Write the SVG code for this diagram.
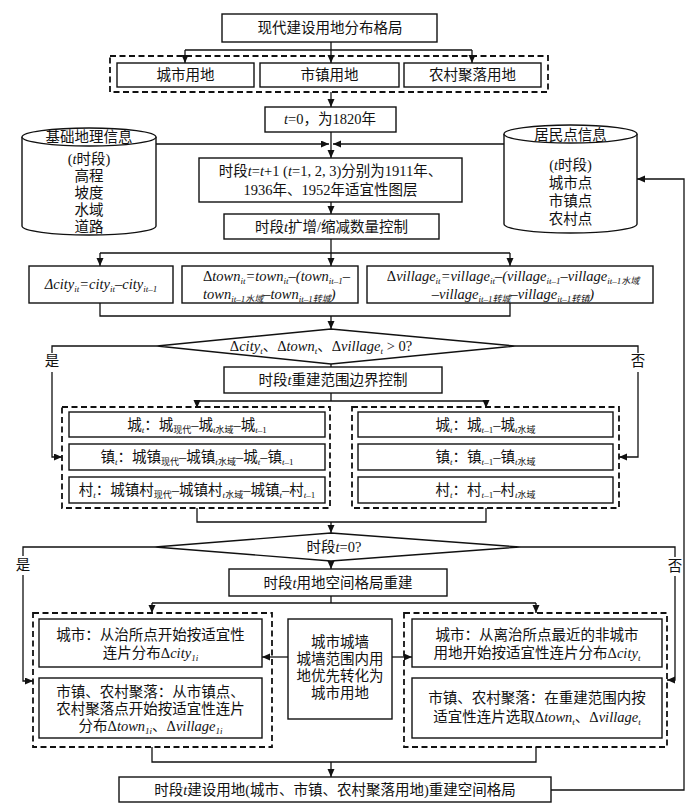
<svg xmlns="http://www.w3.org/2000/svg" width="700" height="808" viewBox="0 0 700 808">
<defs>
<marker id="ah" markerUnits="userSpaceOnUse" markerWidth="9" markerHeight="8" refX="8" refY="3.5" orient="auto">
<path d="M0,0 L8,3.5 L0,7 z" fill="#111"/>
</marker>
<style>
.b{fill:#fff;stroke:#111;stroke-width:1.4}
.d{fill:none;stroke:#111;stroke-width:1.8;stroke-dasharray:6,3.5}
.c{fill:none;stroke:#111;stroke-width:1.3}
.a{fill:none;stroke:#111;stroke-width:1.3;marker-end:url(#ah)}
.t{font-family:"Liberation Serif","Noto Sans CJK SC",serif;font-size:14.5px;text-anchor:middle;fill:#111}
.l{text-anchor:start}
.i{font-style:italic}
.s{font-size:9px}
</style>
</defs>
<rect width="700" height="808" fill="#fff"/>

<g id="connectors">
<polyline class="c" points="331,42 331,50"/>
<polyline class="c" points="185,50 472,50"/>
<polyline class="a" points="185,50 185,63"/>
<polyline class="a" points="331,50 331,63"/>
<polyline class="a" points="472,50 472,63"/>
<polyline class="a" points="331,92 331,107"/>
<polyline class="a" points="156,144 329,144"/>
<polyline class="a" points="504,144 333,144"/>
<polyline class="a" points="331,132 331,158"/>
<polyline class="a" points="331,202 331,214"/>
<polyline class="c" points="331,239 331,253"/>
<polyline class="c" points="100,253 510,253"/>
<polyline class="a" points="100,253 100,266"/>
<polyline class="a" points="331,253 331,266"/>
<polyline class="a" points="510,253 510,266"/>
<polyline class="c" points="100,303 100,316 510,316 510,303"/>
<polyline class="a" points="331,316 331,329"/>
<polyline class="c" points="157,346 52,346 52,353"/>
<polyline class="a" points="52,372 52,457 62,457"/>
<polyline class="c" points="515,346 638,346 638,353"/>
<polyline class="a" points="638,372 638,457 619,457"/>
<polyline class="c" points="331,364 331,367"/>
<polyline class="c" points="331,393 331,401"/>
<polyline class="c" points="197,401 486,401"/>
<polyline class="a" points="197,401 197,408"/>
<polyline class="a" points="486,401 486,408"/>
<polyline class="c" points="197,508 197,522 486,522 486,508"/>
<polyline class="a" points="331,522 331,533"/>
<polyline class="c" points="155,547 23,547 23,556"/>
<polyline class="a" points="23,575 23,681 33,681"/>
<polyline class="c" points="520,547 675,547 675,557"/>
<polyline class="a" points="675,576 675,680 667,680"/>
<polyline class="a" points="331,561 331,569"/>
<polyline class="c" points="331,596 331,603"/>
<polyline class="c" points="152,603 536,603"/>
<polyline class="a" points="152,603 152,613"/>
<polyline class="a" points="536,603 536,613"/>
<polyline class="a" points="288,657 262,657"/>
<polyline class="a" points="392,657 412,657"/>
<polyline class="c" points="152,747 152,762 536,762 536,747"/>
<polyline class="a" points="331,762 331,777"/>
<polyline class="a" points="551,790 684,790 684,179 637,179"/>
<text class="t" x="52" y="366">是</text>
<text class="t" x="638" y="366">否</text>
<text class="t" x="23" y="570">是</text>
<text class="t" x="675" y="571">否</text>
</g>

<g id="n-top">
<rect class="b" x="222" y="14" width="215" height="28"/>
<text class="t" x="330" y="33">现代建设用地分布格局</text>
</g>

<g id="n-landuse">
<rect class="d" x="110" y="56" width="438" height="36"/>
<rect class="b" x="117" y="63" width="137" height="24"/>
<text class="t" x="185.5" y="80">城市用地</text>
<rect class="b" x="260" y="63" width="139" height="24"/>
<text class="t" x="329.5" y="80">市镇用地</text>
<rect class="b" x="404" y="63" width="137" height="24"/>
<text class="t" x="472.5" y="80">农村聚落用地</text>
</g>

<g id="n-t0">
<rect class="b" x="265" y="107" width="131" height="25"/>
<text class="t" x="330" y="124"><tspan class="i">t</tspan>=0，为1820年</text>
</g>

<g id="n-geo">
<path class="b" d="M22,137 L22,226 A67,9 0 0 0 156,226 L156,137"/>
<ellipse class="b" cx="89" cy="137" rx="67" ry="9"/>
<text class="t" x="89" y="142">基础地理信息</text>
<text class="t" x="89" y="164">(<tspan class="i">t</tspan>时段)</text>
<text class="t" x="89" y="181">高程</text>
<text class="t" x="89" y="198">坡度</text>
<text class="t" x="89" y="215">水域</text>
<text class="t" x="89" y="232">道路</text>
</g>

<g id="n-settle">
<path class="b" d="M504,134 L504,224 A66.5,9 0 0 0 637,224 L637,134"/>
<ellipse class="b" cx="570.5" cy="134" rx="66.5" ry="9"/>
<text class="t" x="570.5" y="140">居民点信息</text>
<text class="t" x="570.5" y="170">(<tspan class="i">t</tspan>时段)</text>
<text class="t" x="570.5" y="188">城市点</text>
<text class="t" x="570.5" y="206">市镇点</text>
<text class="t" x="570.5" y="224">农村点</text>
</g>

<g id="n-period">
<rect class="b" x="199" y="158" width="263" height="44"/>
<text class="t" x="330.5" y="176">时段<tspan class="i">t</tspan>=<tspan class="i">t</tspan>+1 (<tspan class="i">t</tspan>=1, 2, 3)分别为1911年、</text>
<text class="t" x="330.5" y="195">1936年、1952年适宜性图层</text>
</g>

<g id="n-qty">
<rect class="b" x="224" y="214" width="215" height="25"/>
<text class="t" x="331.5" y="232">时段<tspan class="i">t</tspan>扩增/缩减数量控制</text>
</g>

<g id="n-dcity">
<rect class="b" x="29" y="266" width="144" height="37"/>
<text class="t i" x="101" y="289">Δcity<tspan class="s" dy="3">it</tspan><tspan dy="-3">=city</tspan><tspan class="s" dy="3">it</tspan><tspan dy="-3">–city</tspan><tspan class="s" dy="3">it–1</tspan></text>
</g>

<g id="n-dtown">
<rect class="b" x="182" y="266" width="176" height="37"/>
<text class="t l" x="203" y="281">Δ<tspan class="i">town</tspan><tspan class="s i" dy="3">it</tspan><tspan class="i" dy="-3">=town</tspan><tspan class="s i" dy="3">it</tspan><tspan class="i" dy="-3">–(town</tspan><tspan class="s i" dy="3">it–1</tspan><tspan dy="-3">–</tspan></text>
<text class="t l i" x="203" y="299">town<tspan class="s" dy="3">it–1水域</tspan><tspan dy="-3">–town</tspan><tspan class="s" dy="3">it–1转城</tspan><tspan dy="-3">)</tspan></text>
</g>

<g id="n-dvillage">
<rect class="b" x="367" y="266" width="286" height="37"/>
<text class="t" x="513" y="281">Δ<tspan class="i">village</tspan><tspan class="s i" dy="3">it</tspan><tspan class="i" dy="-3">=village</tspan><tspan class="s i" dy="3">it</tspan><tspan class="i" dy="-3">–(village</tspan><tspan class="s i" dy="3">it–1</tspan><tspan class="i" dy="-3">–village</tspan><tspan class="s i" dy="3">it–1水域</tspan></text>
<text class="t i" x="513" y="299">–village<tspan class="s" dy="3">it–1转城</tspan><tspan dy="-3">–village</tspan><tspan class="s" dy="3">it–1转镇</tspan><tspan dy="-3">)</tspan></text>
</g>

<g id="n-dec1">
<polygon class="b" points="157,346 331,329 515,346 331,364"/>
<text class="t" x="321" y="351">Δ<tspan class="i">city</tspan><tspan class="s i" dy="3">t</tspan><tspan dy="-3">、Δ</tspan><tspan class="i">town</tspan><tspan class="s i" dy="3">t</tspan><tspan dy="-3">、Δ</tspan><tspan class="i">village</tspan><tspan class="s i" dy="3">t</tspan><tspan dy="-3"> &gt; 0?</tspan></text>
</g>

<g id="n-bound">
<rect class="b" x="224" y="367" width="218" height="26"/>
<text class="t" x="333" y="385">时段<tspan class="i">t</tspan>重建范围边界控制</text>
</g>

<g id="n-boundyes">
<rect class="d" x="62" y="407" width="268" height="101"/>
<rect class="b" x="69" y="412" width="256" height="25"/>
<text class="t" x="197" y="430">城<tspan class="s i" dy="3">t</tspan><tspan dy="-3">：城</tspan><tspan class="s" dy="3">现代</tspan><tspan dy="-3">–城</tspan><tspan class="s" dy="3"><tspan class="i">t</tspan>水域</tspan><tspan dy="-3">–城</tspan><tspan class="s" dy="3"><tspan class="i">t</tspan>–1</tspan></text>
<rect class="b" x="69" y="444" width="256" height="26"/>
<text class="t" x="197" y="462">镇<tspan class="s i" dy="3">t</tspan><tspan dy="-3">：城镇</tspan><tspan class="s" dy="3">现代</tspan><tspan dy="-3">–城镇</tspan><tspan class="s" dy="3"><tspan class="i">t</tspan>水域</tspan><tspan dy="-3">–城</tspan><tspan class="s i" dy="3">t</tspan><tspan dy="-3">–镇</tspan><tspan class="s" dy="3"><tspan class="i">t</tspan>–1</tspan></text>
<rect class="b" x="69" y="477" width="256" height="26"/>
<text class="t" x="197" y="495">村<tspan class="s i" dy="3">t</tspan><tspan dy="-3">：城镇村</tspan><tspan class="s" dy="3">现代</tspan><tspan dy="-3">–城镇村</tspan><tspan class="s" dy="3"><tspan class="i">t</tspan>水域</tspan><tspan dy="-3">–城镇</tspan><tspan class="s i" dy="3">t</tspan><tspan dy="-3">–村</tspan><tspan class="s" dy="3"><tspan class="i">t</tspan>–1</tspan></text>
</g>

<g id="n-boundno">
<rect class="d" x="352" y="407" width="267" height="101"/>
<rect class="b" x="358" y="412" width="255" height="25"/>
<text class="t" x="485.5" y="430">城<tspan class="s i" dy="3">t</tspan><tspan dy="-3">：城</tspan><tspan class="s" dy="3"><tspan class="i">t</tspan>–1</tspan><tspan dy="-3">–城</tspan><tspan class="s" dy="3"><tspan class="i">t</tspan>水域</tspan></text>
<rect class="b" x="358" y="444" width="255" height="26"/>
<text class="t" x="485.5" y="462">镇<tspan class="s i" dy="3">t</tspan><tspan dy="-3">：镇</tspan><tspan class="s" dy="3"><tspan class="i">t</tspan>–1</tspan><tspan dy="-3">–镇</tspan><tspan class="s" dy="3"><tspan class="i">t</tspan>水域</tspan></text>
<rect class="b" x="358" y="477" width="255" height="26"/>
<text class="t" x="485.5" y="495">村<tspan class="s i" dy="3">t</tspan><tspan dy="-3">：村</tspan><tspan class="s" dy="3"><tspan class="i">t</tspan>–1</tspan><tspan dy="-3">–村</tspan><tspan class="s" dy="3"><tspan class="i">t</tspan>水域</tspan></text>
</g>

<g id="n-dec2">
<polygon class="b" points="155,547 331,533 520,547 331,561"/>
<text class="t" x="334" y="552">时段<tspan class="i">t</tspan>=0?</text>
</g>

<g id="n-rebuild">
<rect class="b" x="229" y="569" width="218" height="27"/>
<text class="t" x="338" y="588">时段<tspan class="i">t</tspan>用地空间格局重建</text>
</g>

<g id="n-yesbox">
<rect class="d" x="33" y="613" width="239" height="134"/>
<rect class="b" x="39" y="619" width="223" height="48"/>
<text class="t" x="150.5" y="640">城市：从治所点开始按适宜性</text>
<text class="t" x="150.5" y="658">连片分布Δ<tspan class="i">city</tspan><tspan class="s i" dy="3">1i</tspan></text>
<rect class="b" x="39" y="678" width="223" height="60"/>
<text class="t" x="150.5" y="697">市镇、农村聚落：从市镇点、</text>
<text class="t" x="150.5" y="714">农村聚落点开始按适宜性连片</text>
<text class="t" x="150.5" y="731">分布Δ<tspan class="i">town</tspan><tspan class="s i" dy="3">1i</tspan><tspan dy="-3">、Δ</tspan><tspan class="i">village</tspan><tspan class="s i" dy="3">1i</tspan></text>
</g>

<g id="n-wall">
<rect class="b" x="288" y="619" width="104" height="100"/>
<text class="t" x="340" y="647">城市城墙</text>
<text class="t" x="340" y="664">城墙范围内用</text>
<text class="t" x="340" y="681">地优先转化为</text>
<text class="t" x="340" y="698">城市用地</text>
</g>

<g id="n-nobox">
<rect class="d" x="404" y="613" width="263" height="134"/>
<rect class="b" x="412" y="619" width="250" height="48"/>
<text class="t" x="537" y="640">城市：从离治所点最近的非城市</text>
<text class="t" x="537" y="658">用地开始按适宜性连片分布Δ<tspan class="i">city</tspan><tspan class="s i" dy="3">t</tspan></text>
<rect class="b" x="412" y="678" width="250" height="60"/>
<text class="t" x="537" y="703">市镇、农村聚落：在重建范围内按</text>
<text class="t" x="537" y="722">适宜性连片选取Δ<tspan class="i">town</tspan><tspan class="s i" dy="3">t</tspan><tspan dy="-3">、Δ</tspan><tspan class="i">village</tspan><tspan class="s i" dy="3">t</tspan></text>
</g>

<g id="n-final">
<rect class="b" x="119" y="777" width="432" height="25"/>
<text class="t" x="335" y="795">时段<tspan class="i">t</tspan>建设用地(城市、市镇、农村聚落用地)重建空间格局</text>
</g>
</svg>
